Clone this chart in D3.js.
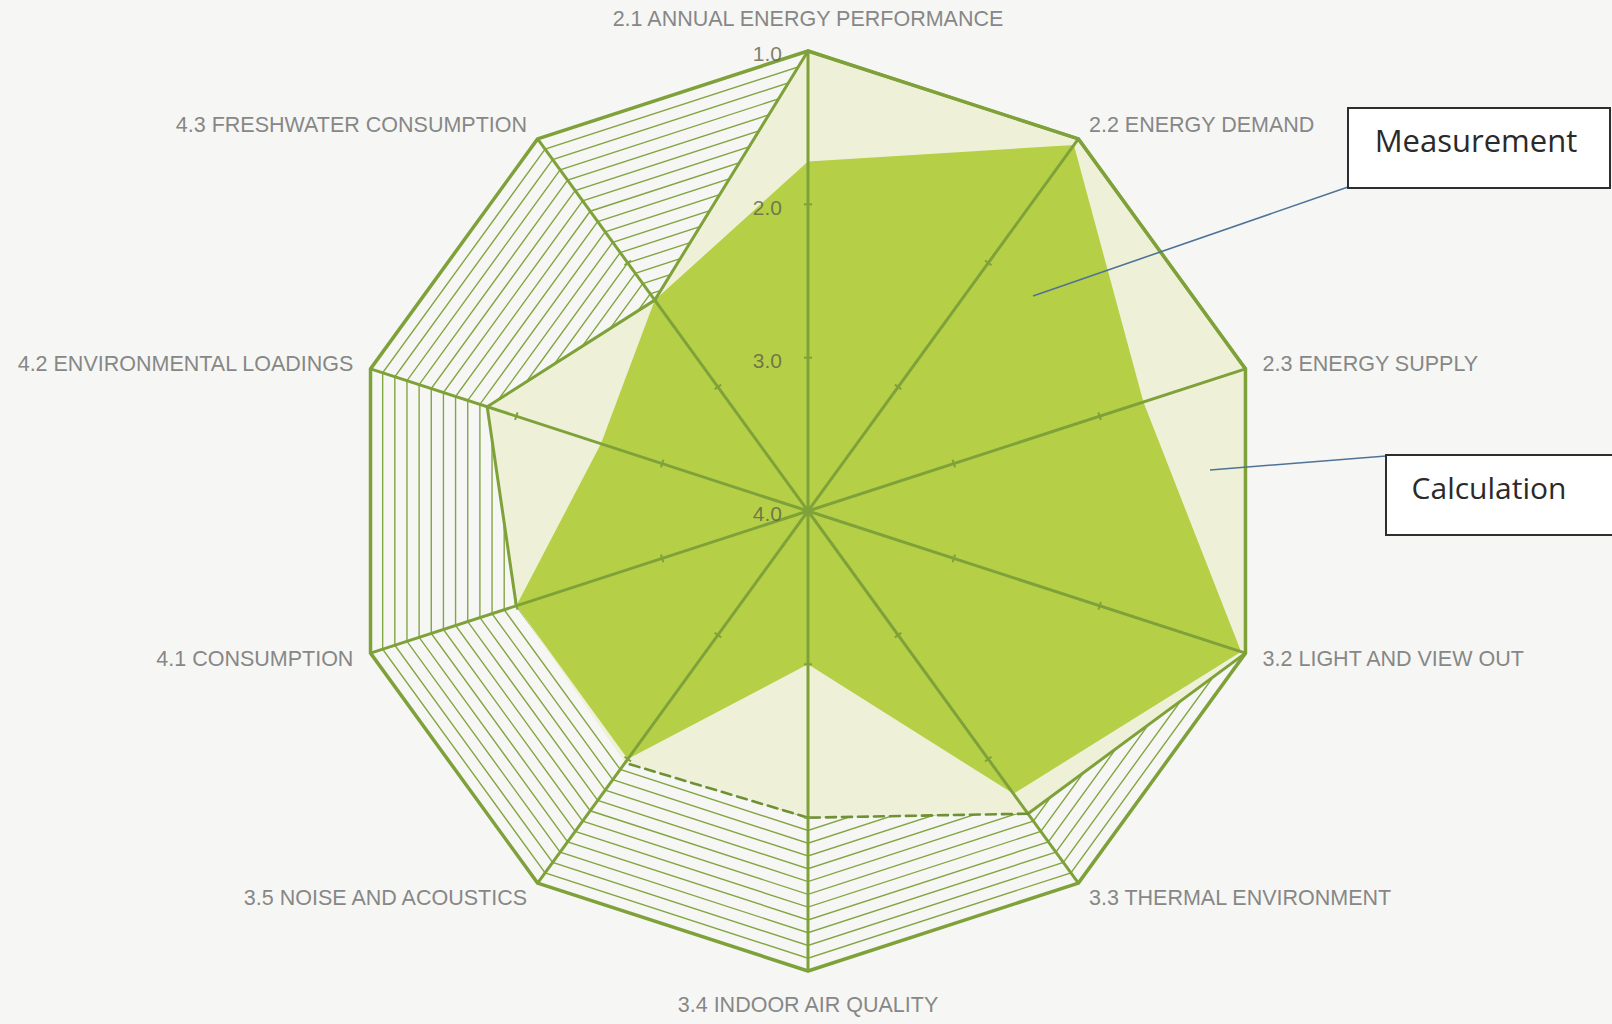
<!DOCTYPE html>
<html>
<head>
<meta charset="utf-8">
<script src="https://cdn.jsdelivr.net/npm/d3@7"></script>
<style>
  html, body { margin: 0; padding: 0; background: #f6f7f4; }
  svg { display: block; }
</style>
</head>
<body>
<svg id="chart" width="1612" height="1024"></svg>
<script>
// ---- data ----
const categories = [
  "2.1 ANNUAL ENERGY PERFORMANCE",
  "2.2 ENERGY DEMAND",
  "2.3 ENERGY SUPPLY",
  "3.2 LIGHT AND VIEW OUT",
  "3.3 THERMAL ENVIRONMENT",
  "3.4 INDOOR AIR QUALITY",
  "3.5 NOISE AND ACOUSTICS",
  "4.1 CONSUMPTION",
  "4.2 ENVIRONMENTAL LOADINGS",
  "4.3 FRESHWATER CONSUMPTION"
];
const measurement = [1.72, 1.05, 1.70, 1.03, 1.72, 3.0, 2.0, 2.0, 2.58, 2.3];
const calculation = [1.0, 1.0, 1.0, 1.0, 1.56, 2.0, 1.97, 2.0, 1.8, 2.3];
const tickValues = [1.0, 2.0, 3.0, 4.0];
const tickLabels = ["1.0", "2.0", "3.0", "4.0"];
// style of the calculation outline for the edge leaving each axis
const calcEdgeStyle = ["solid", "solid", "solid", "solid", "dashed", "dashed", "none", "solid", "solid", "solid"];
const annotations = ["Measurement", "Calculation"];

// ---- layout ----
const W = 1612, H = 1024;
const cx = 808, cy = 511, R = 460;
const svg = d3.select("#chart");
svg.append("rect").attr("width", W).attr("height", H).attr("fill", "#f6f7f4");

const r = d3.scaleLinear().domain([4, 1]).range([0, R]);
const angle = d3.scaleLinear().domain([0, categories.length]).range([0, 2 * Math.PI]);
const pt = (i, v) => [cx + r(v) * Math.sin(angle(i)), cy - r(v) * Math.cos(angle(i))];

const g = svg.append("g").attr("transform", `translate(${cx},${cy})`);
const radial = d3.lineRadial()
  .angle((d, i) => angle(i))
  .radius(d => r(d))
  .curve(d3.curveLinearClosed);

const GREEN = "#7fa13a";

// hatch: many concentric grid decagons
const gridLevels = d3.range(1 + 1 / 12, 4, 1 / 12);
g.append("g").selectAll("path").data(gridLevels).join("path")
  .attr("d", lv => radial(categories.map(() => lv)))
  .attr("fill", "none")
  .attr("stroke", "#84a543")
  .attr("stroke-width", 1.4);

// calculation area
g.append("path")
  .attr("d", radial(calculation))
  .attr("fill", "#eef1d8");

// measurement area
g.append("path")
  .attr("d", radial(measurement))
  .attr("fill", "#b5d046");

// spokes
g.append("g").selectAll("line").data(categories).join("line")
  .attr("x1", 0).attr("y1", 0)
  .attr("x2", (d, i) => r(1) * Math.sin(angle(i)))
  .attr("y2", (d, i) => -r(1) * Math.cos(angle(i)))
  .attr("stroke", GREEN).attr("stroke-width", 3);

// outer decagon
g.append("path")
  .attr("d", radial(categories.map(() => 1)))
  .attr("fill", "none")
  .attr("stroke", GREEN).attr("stroke-width", 3.5)
  .attr("stroke-linejoin", "round");

// calculation outline edges
const n = categories.length;
calculation.forEach((v, i) => {
  const st = calcEdgeStyle[i];
  if (st === "none") return;
  const a = pt(i, v), b = pt((i + 1) % n, calculation[(i + 1) % n]);
  svg.append("line")
    .attr("x1", a[0]).attr("y1", a[1]).attr("x2", b[0]).attr("y2", b[1])
    .attr("stroke", st === "dashed" ? "#6f9034" : GREEN)
    .attr("stroke-width", st === "dashed" ? 2.6 : 3)
    .attr("stroke-dasharray", st === "dashed" ? "10,6" : null)
    .attr("stroke-linecap", "round");
});

// small ticks on spokes
categories.forEach((c, i) => {
  [2, 3].forEach(v => {
    const a = angle(i);
    const [x, y] = pt(i, v);
    const nx = Math.cos(a) * 4, ny = Math.sin(a) * 4;
    svg.append("line")
      .attr("x1", x - nx).attr("y1", y - ny).attr("x2", x + nx).attr("y2", y + ny)
      .attr("stroke", GREEN).attr("stroke-width", 2);
  });
});

// tick labels along first axis
svg.append("g").selectAll("text").data(tickValues).join("text")
  .attr("x", cx - 26)
  .attr("y", v => cy - r(v) + 3)
  .attr("dy", "0.35em")
  .attr("text-anchor", "end")
  .attr("font-family", "Liberation Sans, Arial, sans-serif")
  .attr("font-size", 21)
  .attr("fill", "#5d6048")
  .attr("fill-opacity", 0.8)
  .text((v, i) => tickLabels[i]);

// category labels
svg.append("g").selectAll("text").data(categories).join("text")
  .each(function (d, i) {
    const a = angle(i);
    const s = Math.sin(a), c = Math.cos(a);
    let x = cx + (R + 18) * s, y = cy - (R + 18) * c;
    let anchor = "middle";
    if (s > 0.1) anchor = "start";
    else if (s < -0.1) anchor = "end";
    else y -= c * 15;
    d3.select(this)
      .attr("x", x).attr("y", y).attr("dy", "0.35em")
      .attr("text-anchor", anchor);
  })
  .attr("font-family", "Liberation Sans, Arial, sans-serif")
  .attr("font-size", 21.5)
  .attr("fill", "#878787")
  .text(d => d);

// annotations
const ann = svg.append("g");
// leader lines
ann.append("line").attr("x1", 1348).attr("y1", 187).attr("x2", 1033).attr("y2", 296)
  .attr("stroke", "#4f7298").attr("stroke-width", 1.6);
ann.append("line").attr("x1", 1386).attr("y1", 456).attr("x2", 1210).attr("y2", 470)
  .attr("stroke", "#4f7298").attr("stroke-width", 1.6);
// boxes
ann.append("rect").attr("x", 1348).attr("y", 108).attr("width", 262).attr("height", 80)
  .attr("fill", "#ffffff").attr("stroke", "#2e2e2e").attr("stroke-width", 2);
ann.append("rect").attr("x", 1386).attr("y", 455).attr("width", 240).attr("height", 80)
  .attr("fill", "#ffffff").attr("stroke", "#2e2e2e").attr("stroke-width", 2);
ann.append("text").attr("x", 1476).attr("y", 141).attr("dy", "0.35em")
  .attr("text-anchor", "middle")
  .attr("font-family", "Open Sans, Noto Sans, sans-serif")
  .attr("font-size", 31).attr("fill", "#2a2a2a")
  .text(annotations[0]);
ann.append("text").attr("x", 1489).attr("y", 488).attr("dy", "0.35em")
  .attr("text-anchor", "middle")
  .attr("font-family", "Open Sans, Noto Sans, sans-serif")
  .attr("font-size", 30).attr("fill", "#2a2a2a")
  .text(annotations[1]);
</script>
</body>
</html>
